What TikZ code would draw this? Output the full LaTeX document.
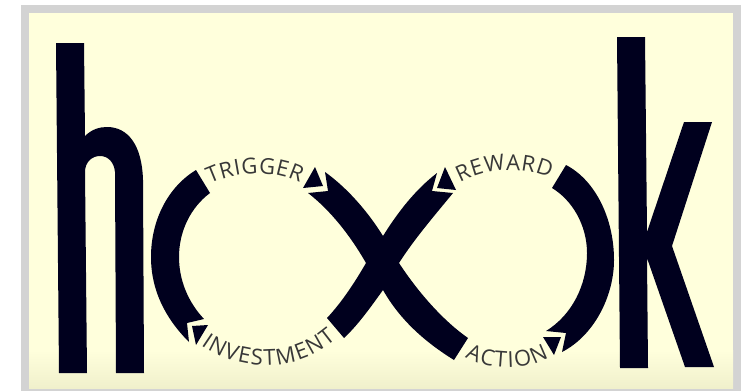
\documentclass[tikz,border=0pt]{standalone}
\usepackage{fontspec}
\setmainfont{Open Sans}
\usetikzlibrary{decorations.text}
\definecolor{inkcol}{HTML}{00001E}
\definecolor{papercol}{HTML}{FFFFDC}
\definecolor{papercoldark}{HTML}{F0F0CC}
\definecolor{framecol}{HTML}{D3D3D3}
\definecolor{labelcol}{HTML}{383838}
\tikzset{
    ink/.style={fill=inkcol, draw=none},
    looplabel/.style={decorate, decoration={text along path, text align={fit to path},
        text={|\fontsize{22}{22}\selectfont\color{labelcol}|#1}}}
}
\begin{document}
\begin{tikzpicture}[x=1pt, y=-1pt]
    \useasboundingbox (0,0) rectangle (746,391);
    \fill[white] (0,0) rectangle (746,391);
    \fill[framecol] (21,5) rectangle (741,391);
    \fill[papercol] (29,13) rectangle (733,388);
    \shade[top color=papercol, bottom color=papercoldark] (29,350) rectangle (733,388);
    % h
    \fill[ink] (56,43) -- (84,43) -- (85,136) .. controls (92,129) and (100,127) .. (107,127)
        .. controls (128,127) and (142,145) .. (143,180) -- (144,373) -- (116,373) -- (115,172)
        .. controls (114,162) and (108,156) .. (100,156) .. controls (92,156) and (85,162) .. (85,172)
        -- (87,373) -- (59,373) -- cycle;
    % left arc
    \fill[ink] (196,170) .. controls (168,187) and (151,220) .. (151,257)
        .. controls (151,290) and (165,318) .. (189,342) -- (187,323) -- (204,319)
        .. controls (188,302) and (179,280) .. (179,257) .. controls (179,232) and (190,208) .. (210,193) -- cycle;
    \fill[ink] (208,325) -- (192,326) -- (196,345) -- cycle;
    % crossing
    \fill[ink] (325,172) .. controls (350,190) and (370,215) .. (383,236) -- (399,263)
        .. controls (420,295) and (445,322) .. (468,338) -- (454,360)
        .. controls (425,342) and (400,320) .. (383,290) -- (366,263)
        .. controls (350,235) and (330,210) .. (308,193) -- (328,191) -- cycle;
    \fill[ink] (327,318) .. controls (342,302) and (355,282) .. (366,263) -- (383,236)
        .. controls (398,212) and (415,190) .. (437,173) -- (432,191) -- (453,193)
        .. controls (435,215) and (415,238) .. (399,263) -- (383,290)
        .. controls (370,308) and (358,325) .. (344,338) -- cycle;
    \fill[ink] (315,167) -- (303,188) -- (323,186) -- cycle;
    \fill[ink] (445,167) -- (456,190) -- (437,188) -- cycle;
    % right arc
    \fill[ink] (566,165) .. controls (595,180) and (614,218) .. (614,260)
        .. controls (614,295) and (595,335) .. (562,352) -- (566,333) -- (546,331)
        .. controls (572,315) and (587,285) .. (587,253) .. controls (587,225) and (572,200) .. (552,188) -- cycle;
    \fill[ink] (543,337) -- (561,337) -- (554,355) -- cycle;
    % k
    \fill[ink] (617,37) -- (645,37) -- (647,232) -- (684,122) -- (712,122) -- (672,246)
        -- (714,367) -- (685,367) -- (647,258) -- (648,368) -- (620,368) -- cycle;
    % labels
    \path[looplabel={TRIGGER}] (210,184) .. controls (240,170) and (272,170) .. (300,183);
    \path[looplabel={REWARD}] (460,183) .. controls (488,168) and (522,166) .. (550,178);
    \path[looplabel={INVESTMENT}] (201,345) .. controls (240,373) and (297,373) .. (336,339);
    \path[looplabel={ACTION}] (465,357) .. controls (490,371) and (525,371) .. (549,357);
\end{tikzpicture}
\end{document}
